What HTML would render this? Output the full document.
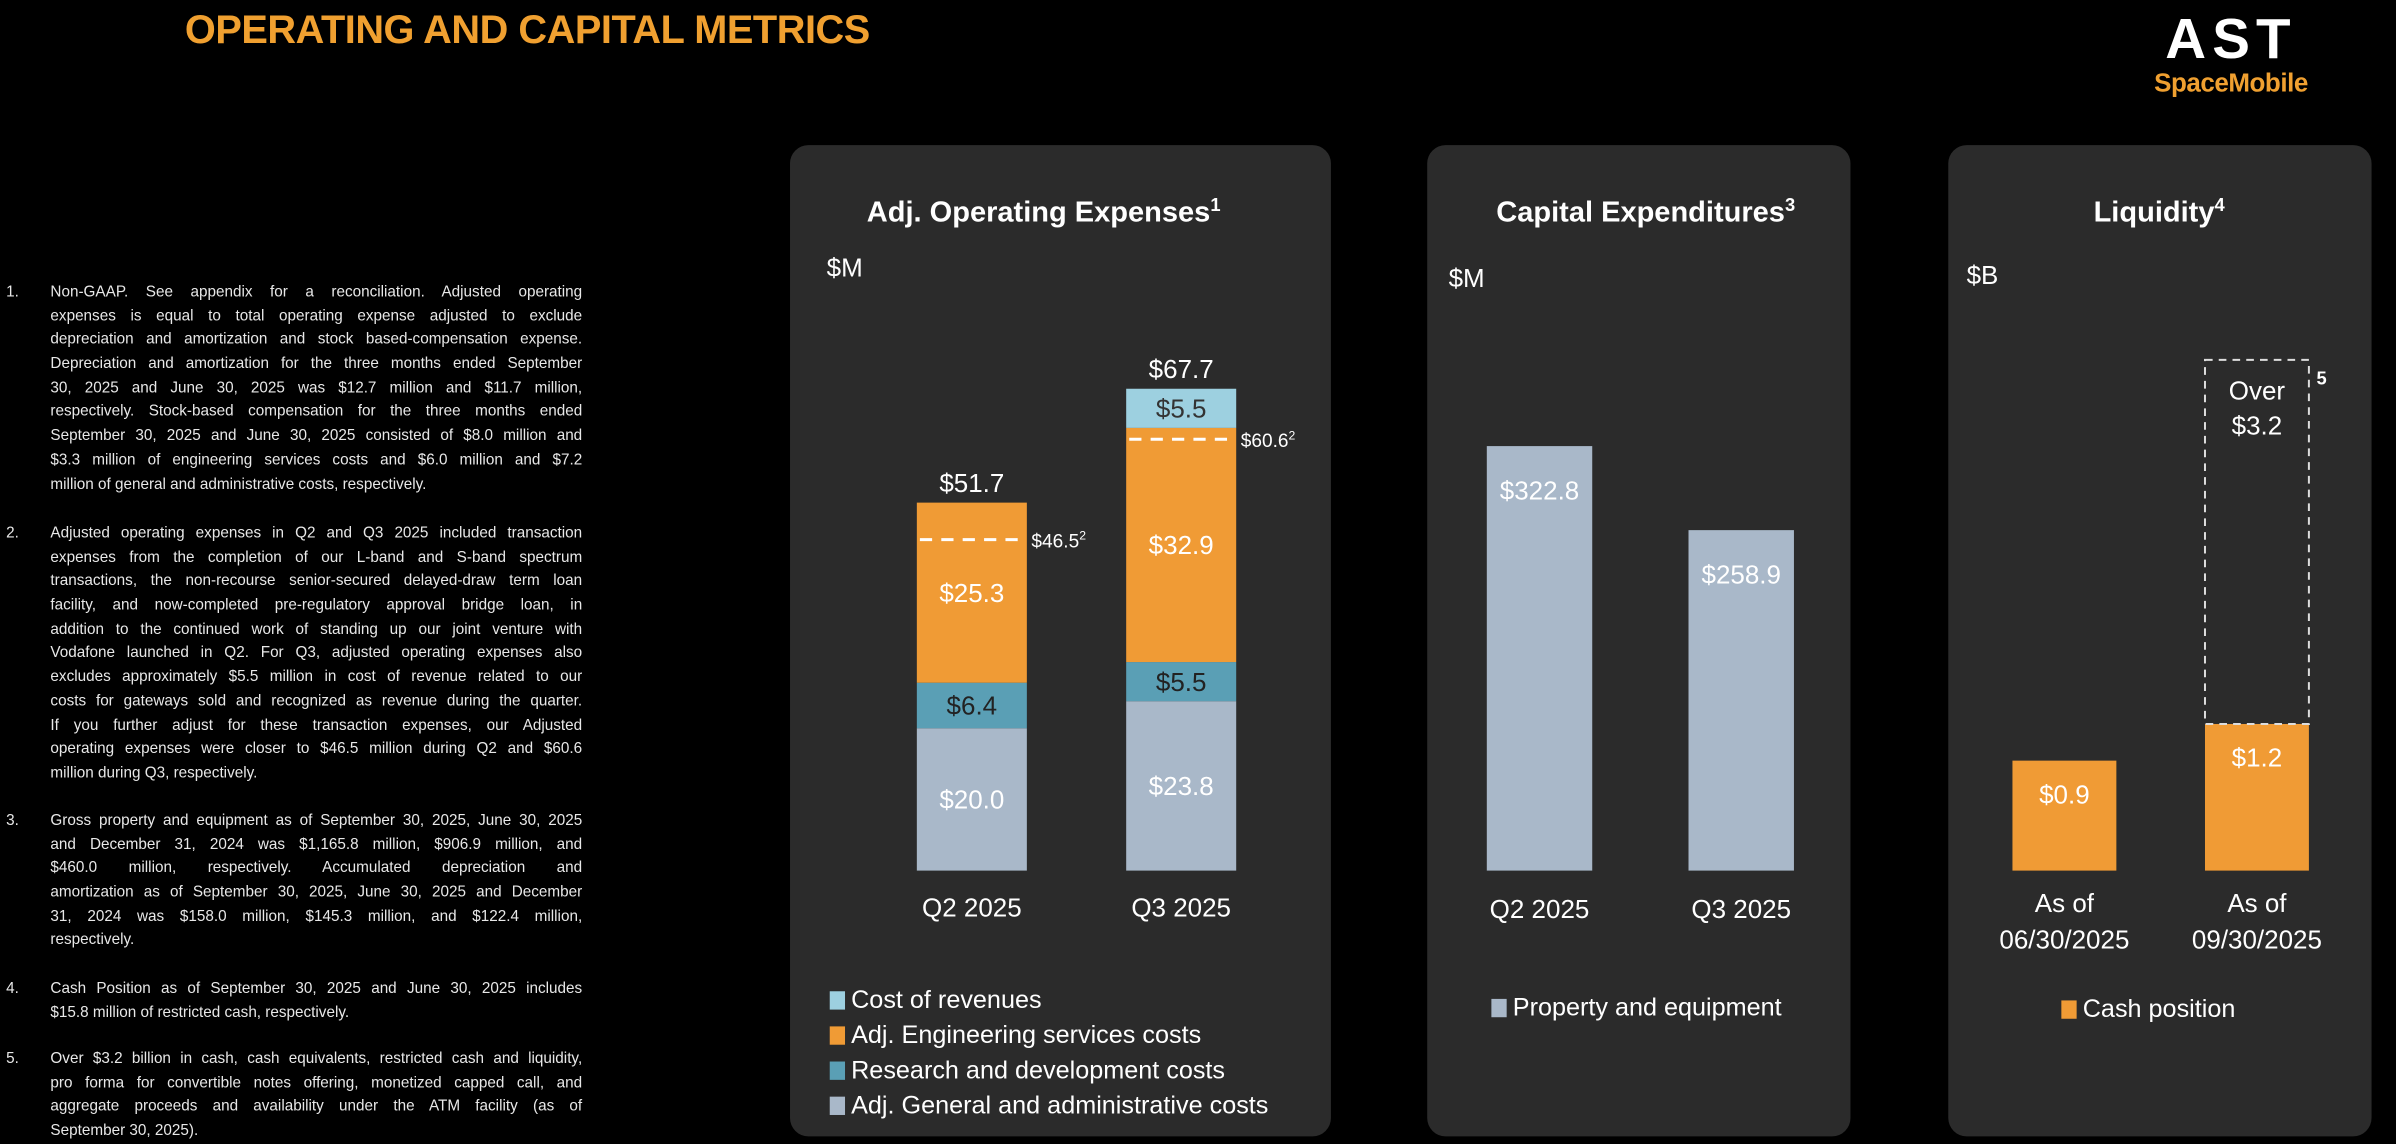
<!DOCTYPE html>
<html><head><meta charset="utf-8">
<style>
html,body{margin:0;padding:0;background:#000;width:2396px;height:1144px;overflow:hidden}
#stage{position:absolute;left:0;top:0;width:1568px;height:749px;transform:scale(1.52806,1.52737);transform-origin:0 0;font-family:"Liberation Sans",sans-serif;color:#fff}
.fn{position:absolute;left:33px;width:348px;font-size:10px;line-height:15.7px;color:#e8e8e8}
.fn div{text-align:justify;text-align-last:justify;white-space:nowrap;height:15.7px}
.fn div.l{text-align-last:left}
.num{position:absolute;left:4px;font-size:10px;line-height:15.7px;color:#e8e8e8}
svg text{font-family:"Liberation Sans",sans-serif}
</style></head><body>
<div id="stage">
<div style="position:absolute;left:121px;top:4px;font-size:26px;font-weight:bold;color:#F0A030;letter-spacing:-0.3px">OPERATING AND CAPITAL METRICS</div>
<div style="position:absolute;left:1398px;top:6px;width:124px;text-align:center">
 <div style="font-size:37px;font-weight:bold;letter-spacing:4px;line-height:40px">AST</div>
 <div style="font-size:17px;font-weight:bold;color:#F0A030;line-height:18px;letter-spacing:-0.3px">SpaceMobile</div>
</div>

<div class="num" style="top:184px">1.</div>
<div class="fn" style="top:184px">
<div>Non-GAAP. See appendix for a reconciliation. Adjusted operating</div>
<div>expenses is equal to total operating expense adjusted to exclude</div>
<div>depreciation and amortization and stock based-compensation expense.</div>
<div>Depreciation and amortization for the three months ended September</div>
<div>30, 2025 and June 30, 2025 was $12.7 million and $11.7 million,</div>
<div>respectively. Stock-based compensation for the three months ended</div>
<div>September 30, 2025 and June 30, 2025 consisted of $8.0 million and</div>
<div>$3.3 million of engineering services costs and $6.0 million and $7.2</div>
<div class="l">million of general and administrative costs, respectively.</div>
</div>
<div class="num" style="top:342px">2.</div>
<div class="fn" style="top:342px">
<div>Adjusted operating expenses in Q2 and Q3 2025 included transaction</div>
<div>expenses from the completion of our L-band and S-band spectrum</div>
<div>transactions, the non-recourse senior-secured delayed-draw term loan</div>
<div>facility, and now-completed pre-regulatory approval bridge loan, in</div>
<div>addition to the continued work of standing up our joint venture with</div>
<div>Vodafone launched in Q2. For Q3, adjusted operating expenses also</div>
<div>excludes approximately $5.5 million in cost of revenue related to our</div>
<div>costs for gateways sold and recognized as revenue during the quarter.</div>
<div>If you further adjust for these transaction expenses, our Adjusted</div>
<div>operating expenses were closer to $46.5 million during Q2 and $60.6</div>
<div class="l">million during Q3, respectively.</div>
</div>
<div class="num" style="top:530px">3.</div>
<div class="fn" style="top:530px">
<div>Gross property and equipment as of September 30, 2025, June 30, 2025</div>
<div>and December 31, 2024 was $1,165.8 million, $906.9 million, and</div>
<div>$460.0 million, respectively. Accumulated depreciation and</div>
<div>amortization as of September 30, 2025, June 30, 2025 and December</div>
<div>31, 2024 was $158.0 million, $145.3 million, and $122.4 million,</div>
<div class="l">respectively.</div>
</div>
<div class="num" style="top:640px">4.</div>
<div class="fn" style="top:640px">
<div>Cash Position as of September 30, 2025 and June 30, 2025 includes</div>
<div class="l">$15.8 million of restricted cash, respectively.</div>
</div>
<div class="num" style="top:686px">5.</div>
<div class="fn" style="top:686px">
<div>Over $3.2 billion in cash, cash equivalents, restricted cash and liquidity,</div>
<div>pro forma for convertible notes offering, monetized capped call, and</div>
<div>aggregate proceeds and availability under the ATM facility (as of</div>
<div class="l">September 30, 2025).</div>
</div>

<svg id="charts" width="1568" height="749" style="position:absolute;left:0;top:0"></svg>
</div>
<script>
const opexCats=["Q2 2025","Q3 2025"];
const gaVals=[20.0,23.8];
const rdVals=[6.4,5.5];
const engVals=[25.3,32.9];
const corVals=[0,5.5];
const opexTotals=[51.7,67.7];
const opexAdj=[46.5,60.6];
const capexCats=["Q2 2025","Q3 2025"];
const capexVals=[322.8,258.9];
const liqCats=[["As of","06/30/2025"],["As of","09/30/2025"]];
const cashVals=[0.9,1.2];
const overVals=[null,3.2];

const NS="http://www.w3.org/2000/svg";
const svg=document.getElementById('charts');
function mk(tag,attrs,parent){const e=document.createElementNS(NS,tag);for(const k in attrs)e.setAttribute(k,attrs[k]);(parent||svg).appendChild(e);return e;}
function txt(s,attrs,parent){const e=mk('text',attrs,parent);e.textContent=s;return e;}
const base=570;
const y1=v=>base-v*4.66;
const y2=v=>base-v*0.861;
const y3=v=>base-v*80;

[[517,354,"opex-panel"],[934,277,"capex-panel"],[1275,277,"liquidity-panel"]].forEach(p=>{
 const r=mk('rect',{x:p[0],y:95,width:p[1],height:649,rx:12,fill:'#2b2b2b'});
 
 
});
function title(s,sup,cx,name){const t=txt(s,{x:cx,y:145,'font-size':19,'font-weight':'bold',fill:'#fff','text-anchor':'middle'});const ts=mk('tspan',{'font-size':12,dy:-7},t);ts.textContent=sup;}
title("Adj. Operating Expenses","1",683,'opex-title');
title("Capital Expenditures","3",1077,'capex-title');
title("Liquidity","4",1413,'liquidity-title');
[["$M",541,181],["$M",948,188],["$B",1287,186]].forEach(u=>{const t=txt(u[0],{x:u[1],y:u[2],'font-size':17,fill:'#fff'});});

const opexX=[600,737],bw1=72;
const segs=[[gaVals,'#A9B8C9','#fff','ga'],[rdVals,'#5A9FB5','#222','rd'],[engVals,'#F09B35','#fff','eng'],[corVals,'#9DD0E0','#333','cor']];
opexCats.forEach((c,i)=>{
 let cum=0;const x=opexX[i];
 segs.forEach(s=>{const v=s[0][i];if(!v)return;
  const r=mk('rect',{x:x,y:y1(cum+v),width:bw1,height:y1(cum)-y1(cum+v),fill:s[1]});
  
  
  const t=txt('$'+v.toFixed(1),{x:x+bw1/2,y:(y1(cum)+y1(cum+v))/2+6,'font-size':17,fill:s[2],'text-anchor':'middle'});
  
  cum+=v;});
 const tt=txt('$'+opexTotals[i].toFixed(1),{x:x+bw1/2,y:y1(opexTotals[i])-7,'font-size':17,fill:'#fff','text-anchor':'middle'});
 
 const l=mk('line',{x1:x+2,x2:x+bw1-2,y1:y1(opexAdj[i]),y2:y1(opexAdj[i]),stroke:'#fff','stroke-width':2,'stroke-dasharray':'8,6'});
 
 const at=txt('$'+opexAdj[i].toFixed(1),{x:x+bw1+3,y:y1(opexAdj[i])+5,'font-size':12.5,fill:'#fff'});
 const sp=mk('tspan',{'font-size':8,dy:-5},at);sp.textContent='2';
 
 const ct=txt(c,{x:x+bw1/2,y:600,'font-size':17,fill:'#fff','text-anchor':'middle'});
 
});
const capX=[973,1105],bw2=69;
capexCats.forEach((c,i)=>{const x=capX[i],v=capexVals[i];
 const r=mk('rect',{x:x,y:y2(v),width:bw2,height:base-y2(v),fill:'#A9B8C9'});
 
 const t=txt('$'+v.toFixed(1),{x:x+bw2/2,y:y2(v)+35,'font-size':17,fill:'#fff','text-anchor':'middle'});
 
 const ct=txt(c,{x:x+bw2/2,y:601,'font-size':17,fill:'#fff','text-anchor':'middle'});
 
});
const liqX=[1317,1443],bw3=68;
liqCats.forEach((c,i)=>{const x=liqX[i],v=cashVals[i];
 const r=mk('rect',{x:x,y:y3(v),width:bw3,height:base-y3(v),fill:'#F09B35'});
 
 const t=txt('$'+v.toFixed(1),{x:x+bw3/2,y:y3(v)+28,'font-size':17,fill:'#fff','text-anchor':'middle'});
 
 if(overVals[i]!==null){const top=y3(v+overVals[i])+ (y3(0)-y3(v+overVals[i]))*0.05;
  const d=mk('rect',{x:x,y:top,width:bw3,height:y3(v)-top,fill:'none',stroke:'#ddd','stroke-width':1.3,'stroke-dasharray':'5,4'});
  
  const o1=txt('Over',{x:x+bw3/2,y:top+26,'font-size':17,fill:'#fff','text-anchor':'middle'});
  
  const o2=txt('$'+overVals[i].toFixed(1),{x:x+bw3/2,y:top+49,'font-size':17,fill:'#fff','text-anchor':'middle'});
  
  const f=txt('5',{x:x+bw3+5,y:top+16,'font-size':12,'font-weight':'bold',fill:'#fff'});
  }
 c.forEach((s,k)=>{const ct=txt(s,{x:x+bw3/2,y:597+k*24,'font-size':17,fill:'#fff','text-anchor':'middle'});
  });
});
function leg(x,y,col,s){const g=mk('g',{});
 mk('rect',{x:x,y:y-11,width:10,height:12,fill:col},g);txt(s,{x:x+14,y:y,'font-size':16.5,fill:'#fff'},g);}
leg(543,660,'#9DD0E0','Cost of revenues');
leg(543,683,'#F09B35','Adj. Engineering services costs');
leg(543,706,'#5A9FB5','Research and development costs');
leg(543,729,'#A9B8C9','Adj. General and administrative costs');
leg(976,665,'#A9B8C9','Property and equipment');
leg(1349,666,'#F09B35','Cash position');
</script>
</body></html>
